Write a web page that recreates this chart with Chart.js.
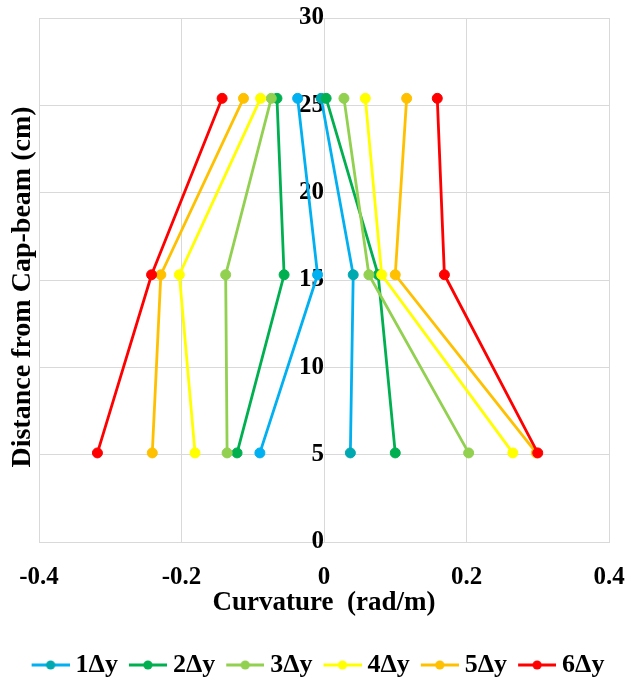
<!DOCTYPE html>
<html>
<head>
<meta charset="utf-8">
<script src="https://cdn.jsdelivr.net/npm/chart.js@4.4.1/dist/chart.umd.min.js"></script>
<style>
html,body{margin:0;padding:0;background:#ffffff;}
canvas{display:block;}
</style>
</head>
<body>
<canvas id="chart" width="629" height="686"></canvas>
<script>
// ---- data (distance from cap-beam, cm) ----
const heights = [5.1, 15.3, 25.4];
const seriesNames = ['1Δy', '2Δy', '3Δy', '4Δy', '5Δy', '6Δy'];
// curvature (rad/m) at each height, negative branch
const left1 = [-0.090, -0.009, -0.037];
const left2 = [-0.122, -0.056, -0.066];
const left3 = [-0.136, -0.138, -0.074];
const left4 = [-0.181, -0.203, -0.089];
const left5 = [-0.241, -0.229, -0.113];
const left6 = [-0.318, -0.242, -0.143];
// curvature (rad/m) at each height, positive branch
const right1 = [0.037, 0.041, -0.004];
const right2 = [0.100, 0.076, 0.003];
const right3 = [0.203, 0.063, 0.028];
const right4 = [0.265, 0.081, 0.058];
const right5 = [0.298, 0.100, 0.116];
const right6 = [0.300, 0.169, 0.159];
const xTicks = [-0.4, -0.2, 0, 0.2, 0.4];
const yTicks = [0, 5, 10, 15, 20, 25, 30];

const leftSeries = [left1, left2, left3, left4, left5, left6];
const rightSeries = [right1, right2, right3, right4, right5, right6];

// ---- styles ----
const colors = ['#00B0F0', '#00B050', '#92D050', '#FFFF00', '#FFC000', '#FF0000'];
const rightPointFill = ['#00A8B0', '#00B050', '#92D050', '#FFFF00', '#FFC000', '#FF0000'];
const FONT = "'Liberation Serif', 'Times New Roman', serif";

function toPoints(xs) {
  return xs.map((x, i) => ({ x: x, y: heights[i] }));
}

const datasets = [];
seriesNames.forEach((name, i) => {
  const common = {
    showLine: true,
    borderColor: colors[i],
    borderWidth: 2.8,
    pointRadius: 5,
    pointBorderWidth: 1,
    pointBorderColor: colors[i],
    order: seriesNames.length - 1 - i,
    tension: 0
  };
  datasets.push(Object.assign({}, common, {
    label: name,
    data: toPoints(leftSeries[i]),
    pointBackgroundColor: colors[i]
  }));
  datasets.push(Object.assign({}, common, {
    label: name + '_r',
    data: toPoints(rightSeries[i]),
    pointBackgroundColor: rightPointFill[i],
    pointBorderColor: rightPointFill[i]
  }));
});

function legendMarker(color, fill) {
  const c = document.createElement('canvas');
  c.width = 52; c.height = 12;
  const g = c.getContext('2d');
  g.strokeStyle = color;
  g.lineWidth = 3;
  g.beginPath();
  g.moveTo(14, 6); g.lineTo(52, 6);
  g.stroke();
  g.fillStyle = fill;
  g.beginPath();
  g.arc(33, 6, 4.6, 0, Math.PI * 2);
  g.fill();
  return c;
}
const markers = colors.map((c, i) => legendMarker(c, rightPointFill[i]));

const tickFont = { family: FONT, size: 25, weight: 'bold', lineHeight: 1 };

new Chart(document.getElementById('chart'), {
  type: 'scatter',
  data: { datasets: datasets },
  options: {
    responsive: false,
    animation: false,
    events: [],
    layout: { padding: { left: 0, right: 0, top: 18, bottom: -2 } },
    plugins: {
      tooltip: { enabled: false },
      legend: {
        position: 'bottom',
        labels: {
          usePointStyle: true,
          pointStyleWidth: 38,
          padding: 4,
          color: '#000000',
          font: { family: FONT, size: 26, weight: 'bold', lineHeight: 1 },
          generateLabels: (chart) => {
            const items = Chart.defaults.plugins.legend.labels.generateLabels(chart);
            return items
              .filter(it => it.datasetIndex % 2 === 0)
              .map(it => {
                const s = it.datasetIndex / 2;
                it.pointStyle = markers[s];
                return it;
              });
          },
          sort: (a, b) => a.datasetIndex - b.datasetIndex
        }
      }
    },
    scales: {
      x: {
        type: 'linear',
        position: 'bottom',
        min: -0.4, max: 0.4,
        afterBuildTicks: (s) => { s.ticks = xTicks.map(v => ({ value: v })); },
        afterFit: (s) => { s.paddingLeft = 0; s.paddingRight = 0; s.height = 106; },
        ticks: {
          color: '#000000',
          font: tickFont,
          padding: 23,
          maxRotation: 0,
          callback: (v) => String(Math.round(v * 10) / 10)
        },
        grid: { color: '#d9d9d9', lineWidth: 1, drawTicks: false },
        border: { display: true, color: '#d9d9d9' },
        title: {
          display: true,
          text: 'Curvature  (rad/m)',
          color: '#000000',
          font: { family: FONT, size: 27, weight: 'bold', lineHeight: 1 },
          padding: { top: 0, bottom: 31 }
        }
      },
      y: {
        type: 'linear',
        position: { x: 0 },
        min: 0, max: 30,
        afterBuildTicks: (s) => { s.ticks = yTicks.map(v => ({ value: v })); },
        afterFit: (s) => { s.paddingTop = 0; s.paddingBottom = 0; },
        ticks: {
          color: '#000000',
          font: tickFont,
          padding: 24
        },
        grid: { color: '#d9d9d9', lineWidth: 1, drawTicks: false },
        border: { display: true, color: '#d9d9d9' }
      },
      yTitle: {
        type: 'linear',
        position: 'left',
        min: 0, max: 30,
        ticks: { display: false },
        grid: { display: false, drawTicks: false },
        border: { display: false },
        title: {
          display: true,
          text: 'Distance from Cap-beam (cm)\u00A0\u00A0',
          color: '#000000',
          font: { family: FONT, size: 28, weight: 'bold', lineHeight: 1 },
          padding: { top: 9, bottom: 2 }
        },
        afterFit: (s) => { s.width = 39; s.paddingTop = 0; s.paddingBottom = 0; }
      },
      yRight: {
        type: 'linear',
        position: 'right',
        min: 0, max: 30,
        ticks: { display: false },
        grid: { display: false, drawTicks: false },
        border: { display: false },
        afterFit: (s) => { s.width = 20; s.paddingTop = 0; s.paddingBottom = 0; }
      }
    }
  }
});
</script>
</body>
</html>
